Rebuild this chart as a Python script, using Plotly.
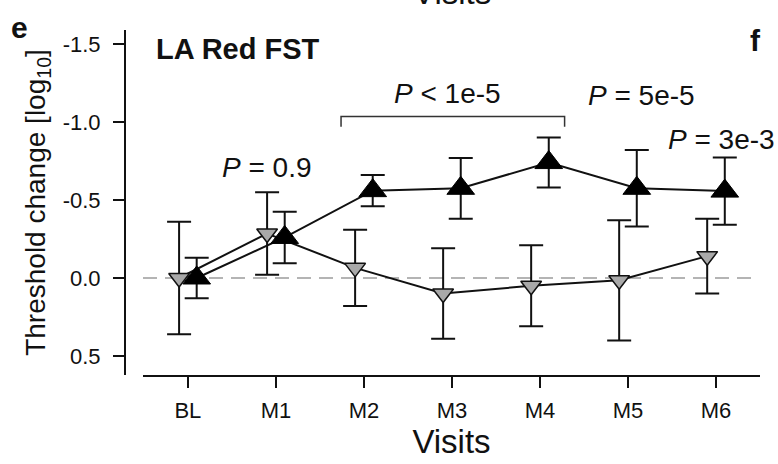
import plotly.graph_objects as go

# ---- data ----
visits = ["BL", "M1", "M2", "M3", "M4", "M5", "M6"]
black_mean = [0.0, -0.26, -0.56, -0.575, -0.74, -0.575, -0.557]
black_err = [0.13, 0.165, 0.10, 0.195, 0.16, 0.245, 0.215]
gray_mean = [0.0, -0.285, -0.065, 0.10, 0.05, 0.015, -0.14]
gray_err = [0.36, 0.265, 0.245, 0.29, 0.26, 0.385, 0.24]
ytick_vals = [-1.5, -1.0, -0.5, 0.0, 0.5]
ytick_text = ["-1.5", "-1.0", "-0.5", "0.0", "0.5"]
p_labels = ["<i>P</i> = 0.9", "<i>P</i> < 1e-5", "<i>P</i> = 5e-5", "<i>P</i> = 3e-3"]

FONT = "Liberation Sans, Arial, sans-serif"
W, H = 778, 464
ML, MR, MT, MB = 125, 18, 30, 89
PW = W - ML - MR
PH = H - MT - MB

idx = list(range(len(visits)))
off = 0.1
x_gray = [i - off for i in idx]
x_black = [i + off for i in idx]

fig = go.Figure()
fig.add_trace(go.Scatter(
    x=x_gray, y=gray_mean, mode="lines+markers",
    line=dict(color="#111111", width=2),
    marker=dict(symbol="triangle-down", size=18, color="#a9a9a9",
                line=dict(color="#111111", width=1.5)),
    error_y=dict(type="data", array=gray_err, visible=True,
                 color="#111111", thickness=2, width=12),
    showlegend=False))
fig.add_trace(go.Scatter(
    x=x_black, y=black_mean, mode="lines+markers",
    line=dict(color="#111111", width=2),
    marker=dict(symbol="triangle-up", size=24, color="#000000",
                line=dict(color="#000000", width=1)),
    error_y=dict(type="data", array=black_err, visible=True,
                 color="#111111", thickness=2, width=12),
    showlegend=False))

# dashed zero line
fig.add_shape(type="line", xref="paper", yref="y", x0=(143 - ML) / PW, x1=(756 - ML) / PW,
              y0=0, y1=0, line=dict(color="#b4b4b4", width=2, dash="14px,8px"), layer="below")
# bracket
fig.add_shape(type="path", xref="x", yref="y",
              path="M 1.74,-0.97 L 1.74,-1.035 L 4.28,-1.035 L 4.28,-0.97",
              line=dict(color="#333333", width=1.5))

ann_x = [0.9, 2.95, 5.15, 6.06]
ann_y = [-0.71, -1.18, -1.17, -0.89]
for t, ax, ay in zip(p_labels, ann_x, ann_y):
    fig.add_annotation(x=ax, y=ay, xref="x", yref="y", text=t, showarrow=False,
                       font=dict(size=28, color="#111111", family=FONT),
                       xanchor="center", yanchor="middle")

fig.add_annotation(x=(154 - ML) / PW, y=1 - (49 - MT) / PH, xref="paper", yref="paper",
                   text="<b>LA Red FST</b>", showarrow=False, xanchor="left", yanchor="middle",
                   font=dict(size=29, color="#111111", family=FONT))
fig.add_annotation(x=(19 - ML) / PW, y=1 - (27 - MT) / PH, xref="paper", yref="paper",
                   text="<b>e</b>", showarrow=False, xanchor="center", yanchor="middle",
                   font=dict(size=30, color="#111111", family=FONT))
fig.add_annotation(x=(755 - ML) / PW, y=1 - (41 - MT) / PH, xref="paper", yref="paper",
                   text="<b>f</b>", showarrow=False, xanchor="center", yanchor="middle",
                   font=dict(size=30, color="#111111", family=FONT))
# cut-off title from the panel above
fig.add_annotation(x=(452 - ML) / PW, y=1 + (MT - 13) / PH, xref="paper", yref="paper",
                   text="Visits", showarrow=False, xanchor="center", yanchor="bottom",
                   font=dict(size=33, color="#111111", family=FONT))

fig.update_layout(
    width=W, height=H, margin=dict(l=ML, r=MR, t=MT, b=MB),
    paper_bgcolor="white", plot_bgcolor="white",
    font=dict(family=FONT, color="#111111"),
    xaxis=dict(domain=[(143 - ML) / PW, 1], range=[-0.51, 6.5],
               tickvals=idx, ticktext=visits, ticks="outside", ticklen=11,
               tickwidth=2, tickcolor="#111111", showline=True, linewidth=2,
               linecolor="#111111", showgrid=False, zeroline=False,
               tickfont=dict(size=22, family=FONT, color="#111111"),
               ticklabelstandoff=4,
               title=dict(text="Visits", font=dict(size=33, family=FONT, color="#111111"),
                          standoff=4)),
    yaxis=dict(anchor="free", position=0, range=[0.622, -1.59],
               tickvals=ytick_vals, ticktext=ytick_text, ticks="outside", ticklen=11,
               tickwidth=2, tickcolor="#111111", showline=True, linewidth=2,
               linecolor="#111111", showgrid=False, zeroline=False,
               tickfont=dict(size=22, family=FONT, color="#111111"),
               ticklabelstandoff=8,
               title=dict(text="Threshold change [log<sub>10</sub>]",
                          font=dict(size=28, family=FONT, color="#111111"), standoff=8)),
)

fig.write_html("out.html")
